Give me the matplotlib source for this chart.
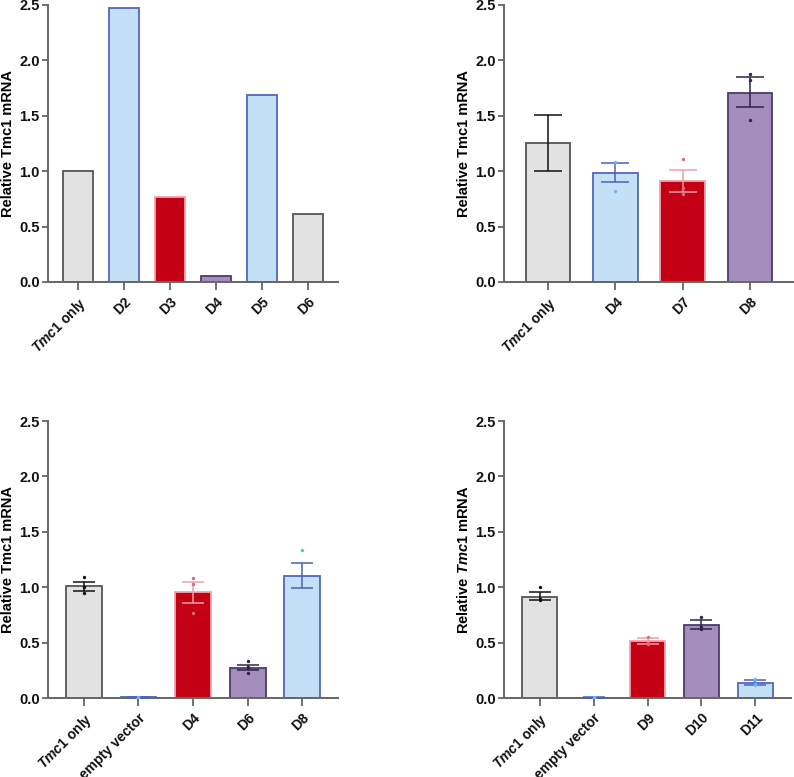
import matplotlib.pyplot as plt
import numpy as np

plt.rcParams['font.family'] = ['Liberation Sans', 'DejaVu Sans']
plt.rcParams['font.weight'] = 'bold'
plt.rcParams['mathtext.fontset'] = 'custom'
plt.rcParams['mathtext.it'] = 'Liberation Sans:italic:bold'
plt.rcParams['mathtext.rm'] = 'Liberation Sans:bold'

TMC = r'$\it{Tmc1}$ only'

# panel A
a_labels = [TMC, 'D2', 'D3', 'D4', 'D5', 'D6']
a_values = [1.0, 2.47, 0.77, 0.05, 1.69, 0.61]
a_groups = ['grey', 'blue', 'red', 'purple', 'blue', 'grey']

# panel B
b_labels = [TMC, 'D4', 'D7', 'D8']
b_values = [1.25, 0.98, 0.91, 1.71]
b_err_lo = [1.0, 0.90, 0.81, 1.58]
b_err_hi = [1.505, 1.07, 1.01, 1.85]
b_points = [[], [1.08, 0.82], [1.11, 0.85, 0.79], [1.88, 1.82, 1.46]]
b_groups = ['grey', 'blue', 'red', 'purple']

# panel C
c_labels = [TMC, 'empty vector', 'D4', 'D6', 'D8']
c_values = [1.01, 0.005, 0.955, 0.273, 1.10]
c_err_lo = [0.97, 0.004, 0.86, 0.25, 0.99]
c_err_hi = [1.05, 0.006, 1.05, 0.30, 1.22]
c_points = [[1.09, 1.0, 0.95], [0.005, 0.004, 0.006], [1.08, 1.025, 0.77],
            [0.33, 0.28, 0.23], [1.34]]
c_groups = ['grey', 'blue', 'red', 'purple', 'blue']

# panel D
d_labels = [TMC, 'empty vector', 'D9', 'D10', 'D11']
d_values = [0.916, 0.004, 0.51, 0.655, 0.135]
d_err_lo = [0.88, 0.003, 0.49, 0.62, 0.12]
d_err_hi = [0.96, 0.005, 0.54, 0.70, 0.165]
d_points = [[1.0, 0.89, 0.88], [0.004, 0.003, 0.005], [0.55, 0.50, 0.49],
            [0.73, 0.64, 0.62], [0.17, 0.13, 0.12]]
d_groups = ['grey', 'blue', 'red', 'purple', 'blue']

fills = {'grey': '#e2e2e2', 'blue': '#c4e0f6', 'red': '#c40015', 'purple': '#a48ebe'}
edges = {'grey': '#555555', 'blue': '#5566bb', 'red': '#f0a4ac', 'purple': '#4a3c6a'}
errc = {'grey': '#111111', 'blue': '#4a62b8', 'red': '#eba0a8', 'purple': '#2e2448'}
dotc = {'grey': '#111111', 'blue': '#6fb4ea', 'red': '#e06a7a', 'purple': '#2e2448'}

W, H = 794, 777
fig = plt.figure(figsize=(W / 100, H / 100), dpi=100)


def make_ax(left, top, bottom, width=290):
    return fig.add_axes([left / W, 1 - bottom / H, width / W, (bottom - top) / H])


def draw(ax, labels, values, groups, lo=None, hi=None, points=None, ylabel='Relative Tmc1 mRNA'):
    x = np.arange(len(labels))
    ax.bar(x, values, width=0.66, color=[fills[g] for g in groups],
           edgecolor=[edges[g] for g in groups], linewidth=1.3, zorder=2)
    if lo is not None:
        for i, g in enumerate(groups):
            ax.errorbar(x[i], values[i],
                        yerr=[[values[i] - lo[i]], [hi[i] - values[i]]],
                        fmt='none', ecolor=errc[g], elinewidth=1.1,
                        capsize=10 if len(labels) < 5 else 8, capthick=1.1, zorder=3)
            pts = points[i]
            ax.scatter([x[i]] * len(pts), pts, s=6, color=dotc[g], zorder=4,
                       linewidths=0)
    ax.set_xlim(-0.66, len(labels) - 1 + 0.66)
    ax.set_ylim(0, 2.5)
    ax.set_yticks([0, 0.5, 1.0, 1.5, 2.0, 2.5])
    ax.set_yticklabels(['0.0', '0.5', '1.0', '1.5', '2.0', '2.5'])
    ax.set_xticks(x)
    ax.set_xticklabels(labels, rotation=45, ha='right', rotation_mode='anchor')
    ax.set_ylabel(ylabel, fontsize=10.5, fontweight='bold', labelpad=3)
    for s in ['top', 'right']:
        ax.spines[s].set_visible(False)
    for s in ['left', 'bottom']:
        ax.spines[s].set_color('#666666')
        ax.spines[s].set_linewidth(1.4)
    ax.tick_params(axis='both', colors='#666666', width=1.3, labelcolor='#111111')
    ax.tick_params(axis='y', length=4, pad=2, labelsize=10.5)
    ax.tick_params(axis='x', length=6, pad=3, labelsize=10)
    for t in ax.get_xticklabels() + ax.get_yticklabels():
        t.set_fontweight('bold')


ax1 = make_ax(48, 5, 282)
draw(ax1, a_labels, a_values, a_groups)

ax2 = make_ax(504, 5, 282)
draw(ax2, b_labels, b_values, b_groups, b_err_lo, b_err_hi, b_points)

ax3 = make_ax(48, 421, 698)
draw(ax3, c_labels, c_values, c_groups, c_err_lo, c_err_hi, c_points)

ax4 = make_ax(504, 421, 698, width=287)
draw(ax4, d_labels, d_values, d_groups, d_err_lo, d_err_hi, d_points,
     ylabel=r'Relative $\it{Tmc1}$ mRNA')

fig.savefig('out.png', dpi=100)
